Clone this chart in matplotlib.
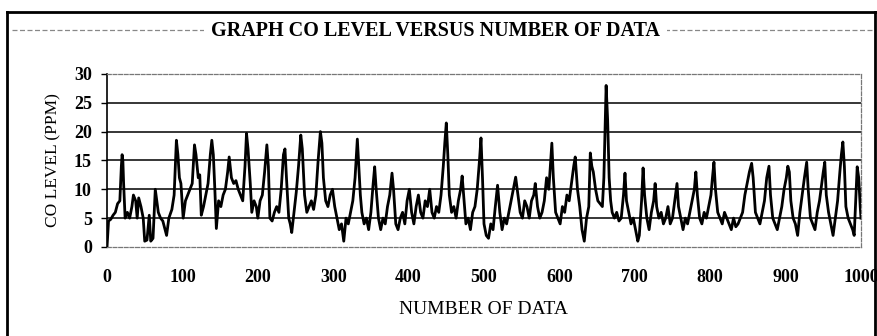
import matplotlib
matplotlib.use("Agg")
import matplotlib.pyplot as plt
from matplotlib.lines import Line2D

# CO readings (sample number, ppm)
sample_no = [
    0, 2, 5, 8, 11, 14, 17, 19, 20, 21, 22, 24, 27, 30, 33, 35, 38, 40, 42, 45,
    48, 50, 53, 56, 58, 61, 64, 66, 68, 71, 74, 77, 79, 82, 86, 89, 92, 94, 96, 98,
    101, 104, 107, 110, 113, 116, 118, 121, 123, 125, 128, 131, 134, 137, 139, 141, 143, 145, 148, 151,
    154, 157, 160, 162, 165, 168, 171, 174, 177, 180, 183, 185, 187, 190, 192, 195, 198, 200, 203, 206,
    209, 212, 214, 216, 219, 222, 225, 228, 231, 234, 236, 238, 241, 243, 245, 248, 251, 254, 257, 259,
    262, 265, 268, 271, 274, 277, 280, 283, 285, 287, 290, 293, 296, 299, 302, 305, 308, 311, 314, 317,
    320, 323, 326, 329, 332, 334, 336, 338, 341, 344, 347, 350, 353, 355, 357, 360, 363, 366, 369, 372,
    375, 378, 380, 383, 386, 389, 392, 395, 398, 401, 404, 407, 410, 413, 416, 419, 422, 425, 428, 431,
    434, 437, 440, 443, 446, 448, 450, 452, 454, 457, 460, 463, 466, 469, 471, 473, 476, 479, 482, 485,
    488, 491, 494, 496, 498, 500, 503, 506, 509, 512, 515, 518, 521, 524, 527, 530, 533, 536, 539, 542,
    545, 548, 551, 554, 557, 560, 563, 566, 568, 571, 574, 577, 580, 583, 586, 588, 590, 592, 595, 598,
    601, 604, 607, 610, 613, 616, 619, 621, 624, 627, 630, 633, 636, 639, 641, 643, 645, 648, 651, 654,
    657, 659, 662, 664, 666, 668, 670, 673, 676, 679, 682, 685, 687, 689, 692, 695, 698, 701, 704, 706,
    709, 711, 713, 716, 719, 722, 725, 727, 729, 732, 735, 738, 741, 744, 747, 750, 753, 756, 758, 761,
    764, 767, 770, 773, 776, 779, 781, 783, 786, 789, 792, 795, 798, 801, 803, 805, 807, 810, 813, 816,
    819, 822, 825, 828, 831, 834, 837, 840, 843, 846, 849, 852, 855, 857, 860, 863, 866, 869, 872, 875,
    878, 880, 883, 886, 889, 892, 895, 898, 901, 903, 905, 907, 910, 913, 916, 919, 922, 925, 928, 930,
    933, 936, 939, 942, 945, 948, 950, 952, 954, 957, 960, 963, 966, 969, 972, 974, 976, 978, 980, 983,
    986, 989, 991, 993, 995, 997, 999, 1000,
]
co_ppm = [
    0, 4.5, 4.8, 5.5, 6, 7.5, 8, 14, 16, 15, 11, 5, 6, 5, 7, 9, 8, 5, 8.5, 7,
    5, 1, 1.2, 5.5, 1, 1.5, 10, 8, 6, 5, 4.5, 3, 2, 5, 6.5, 9, 18.5, 16, 12, 11,
    5, 8, 9, 10, 11, 17.7, 16, 12, 12.5, 5.5, 7, 9, 11, 16, 18.5, 16, 10, 3.2, 8, 7,
    9, 10, 13, 15.6, 12, 11, 11.5, 10, 9, 8, 14, 19.7, 17, 11, 6, 8, 7, 5, 8, 9,
    13, 17.7, 14, 5, 4.5, 6, 7, 6, 10, 16, 17, 12, 5, 4, 2.5, 6, 9.5, 14, 19.4, 17,
    9, 6, 7, 8, 6.5, 9, 15, 20, 18, 12, 8, 7, 9, 10, 7, 5, 3, 4, 1, 5,
    4, 6, 8, 12, 18.7, 14, 9, 6, 4, 5, 3, 6, 11, 13.9, 10, 5, 3, 5, 4, 7,
    9, 12.8, 10, 4, 3, 5, 6, 4, 8, 10, 6, 4, 7, 9, 6, 5, 8, 7, 10, 6,
    5, 7, 6, 9, 14, 18, 21.5, 16, 9, 6, 7, 5, 8, 10, 12.3, 9, 4, 5, 3, 6,
    7, 10, 15, 18.9, 12, 4, 2, 1.5, 4, 3, 7, 10.7, 6, 3, 5, 4, 6, 8, 10, 12.1,
    9, 6, 5, 8, 7, 5, 8, 9, 11, 7, 5, 6, 8, 12, 10, 14, 18, 12, 6, 5,
    4, 7, 6, 9, 8, 11, 14, 15.6, 10, 7, 3, 1, 5, 7, 16.3, 14, 13, 10, 8, 7.5,
    7, 12, 28, 22, 12, 8, 6, 5, 6, 4.5, 5, 9, 12.8, 8, 6, 4, 5, 3, 1, 2,
    8, 13.7, 9, 5, 3, 6, 8, 11, 7, 5, 6, 4, 5, 7, 4, 5, 8, 11, 7, 5,
    3, 5, 4, 6, 8, 10, 13, 9, 5, 4, 6, 5, 7, 9, 12, 14.7, 10, 6, 5, 4,
    6, 5, 4, 3, 5, 3.5, 4, 5, 6, 9, 11, 13, 14.5, 12, 6, 5, 4, 6, 8, 12,
    14, 9, 5, 4, 3, 5, 7, 10, 12, 14, 13, 8, 5, 4, 2, 6, 9, 12, 14.7, 10,
    5, 4, 3, 6, 8, 11, 13, 14.7, 9, 6, 4, 2, 5, 8, 13, 16, 18.2, 14, 7, 5,
    4, 3, 2, 8, 13.9, 12, 7, 5,
]
x_ticks = [0, 100, 200, 300, 400, 500, 600, 700, 800, 900, 1000]
y_ticks = [0, 5, 10, 15, 20, 25, 30]

plt.rcParams["font.family"] = ["Liberation Serif", "DejaVu Serif"]

fig = plt.figure(figsize=(8.78, 3.36), dpi=100)
ax = fig.add_axes([0.1219, 0.265, 0.8587, 0.515])

for y in y_ticks[1:-1]:
    ax.axhline(y, color="black", linewidth=1.1, zorder=1)
ax.plot(sample_no, co_ppm, color="black", linewidth=2.0, zorder=3)

ax.set_xlim(x_ticks[0], x_ticks[-1])
ax.set_ylim(y_ticks[0], y_ticks[-1])
ax.set_xticks(x_ticks)
ax.set_yticks(y_ticks)
ax.tick_params(axis="x", length=0, pad=16, labelsize=13)
ax.tick_params(axis="y", length=4, width=1, pad=7, labelsize=13, direction="out")
for lab in ax.get_xticklabels() + ax.get_yticklabels():
    lab.set_fontweight("bold")

ax.spines["left"].set_linewidth(1.2)
for side in ("top", "bottom", "right"):
    ax.spines[side].set_linestyle((0, (3, 1.5)))
    ax.spines[side].set_color("#777777")
    ax.spines[side].set_linewidth(0.9)

ax.set_xlabel("NUMBER OF DATA", fontsize=14, labelpad=11)
ax.set_ylabel("CO LEVEL (PPM)", fontsize=12.5, labelpad=9)

# outer frame of the scanned figure (bottom edge is cut off)
frame_kw = dict(color="black", linewidth=2, transform=fig.transFigure)
fig.add_artist(Line2D([0.008, 0.008], [0.0, 0.964], **frame_kw))
fig.add_artist(Line2D([0.008, 0.998], [0.964, 0.964], **frame_kw))
fig.add_artist(Line2D([0.997, 0.997], [0.0, 0.964], **frame_kw))
fig.add_artist(Line2D([0.014, 0.994], [0.912, 0.912], color="#888888", linewidth=0.9,
                      linestyle=(0, (4, 2)), transform=fig.transFigure))

fig.text(0.496, 0.908, "GRAPH CO LEVEL VERSUS NUMBER OF DATA", ha="center", va="center",
         fontsize=14.5, fontweight="bold",
         bbox=dict(facecolor="white", edgecolor="none", pad=5))

fig.savefig("out.png", dpi=100)
